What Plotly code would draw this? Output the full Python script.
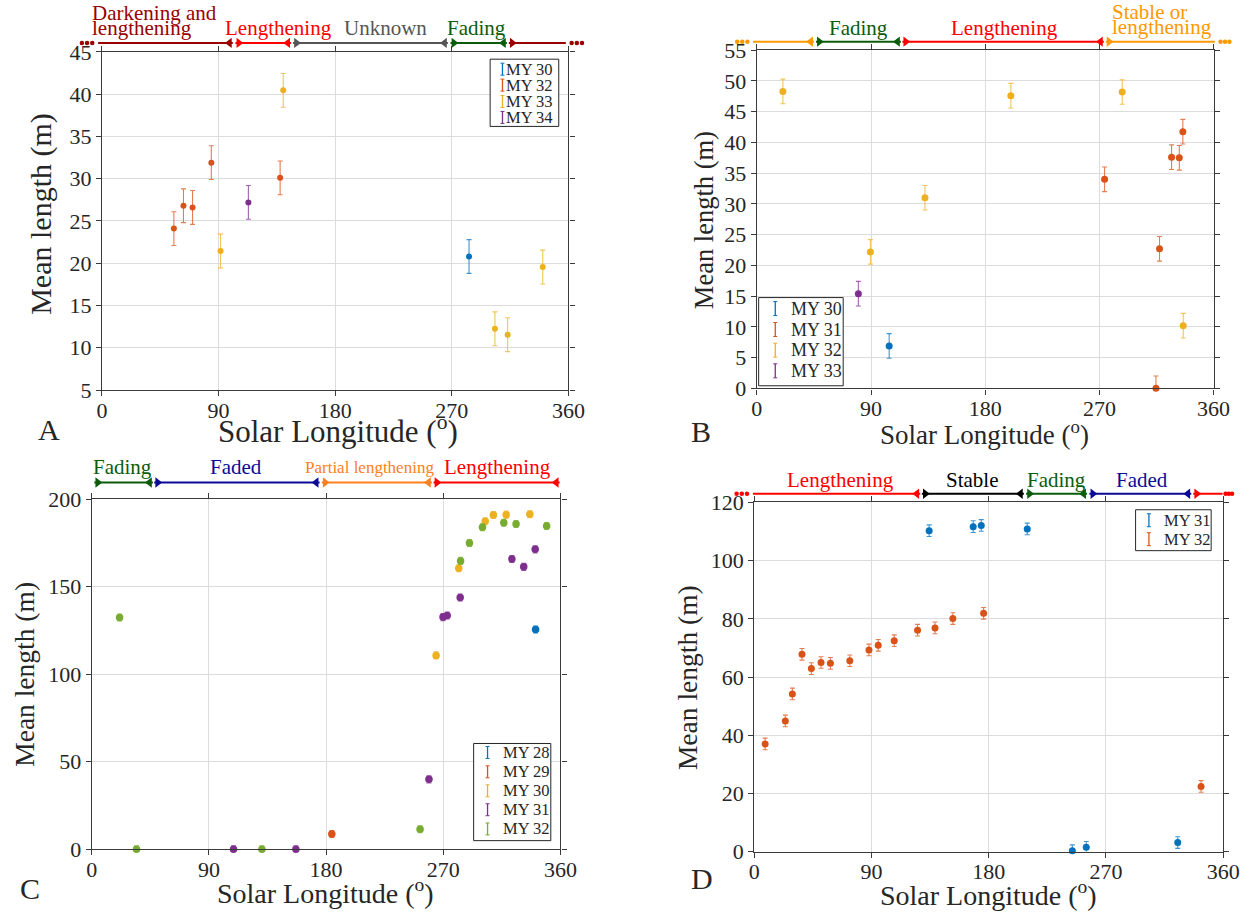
import plotly.graph_objects as go

W, H = 1250, 912

# ---------------- data (Solar longitude in deg, mean length in m) ----------------
A_my30_ls = [283.3]
A_my30_len = [20.8]
A_my32_ls = [55.5, 62.9, 69.9, 84.4, 137.5]
A_my32_len = [24.1, 26.8, 26.6, 31.9, 30.1]
A_my33_ls = [91.5, 139.9, 303.3, 313.1, 340.2]
A_my33_len = [21.45, 40.45, 12.25, 11.55, 19.55]
A_my34_ls = [113.0]
A_my34_len = [27.2]

B_my30_ls = [104.3]
B_my30_len = [6.9]
B_my31_ls = [274.1, 314.6, 317.4, 326.9, 333.0, 335.8]
B_my31_len = [34.0, 0.0, 22.7, 37.6, 37.5, 41.75]
B_my32_ls = [20.5, 89.5, 132.5, 200.2, 288.0, 336.1]
B_my32_len = [48.3, 22.2, 31.0, 47.6, 48.2, 10.2]
B_my33_ls = [80.0]
B_my33_len = [15.4]

C_my28_ls = [340.9]
C_my28_len = [125.5]
C_my29_ls = [184.4]
C_my29_len = [8.7]
C_my30_ls = [264.5, 281.9, 302.2, 308.5, 318.3, 336.5]
C_my30_len = [110.7, 160.5, 187.3, 190.9, 191.1, 191.3]
C_my31_ls = [108.9, 156.8, 259.0, 269.8, 273.0, 283.0, 322.7, 331.8, 340.6]
C_my31_len = [0.0, 0.0, 39.9, 132.6, 133.5, 143.8, 165.8, 161.3, 171.3]
C_my32_ls = [21.4, 34.4, 130.7, 252.2, 283.3, 290.1, 300.1, 316.5, 325.9, 349.4]
C_my32_len = [132.4, 0.0, 0.0, 11.4, 164.7, 174.9, 183.9, 186.5, 185.8, 184.6]

D_my31_ls = [134.3, 168.1, 174.3, 209.6, 244.2, 254.9, 325.1]
D_my31_len = [110.3, 111.7, 112.1, 110.9, 0.3, 1.5, 3.1]
D_my32_ls = [8.4, 23.9, 29.3, 36.7, 43.9, 51.3, 58.5, 73.4, 88.1, 95.2, 107.5,
             125.4, 138.8, 152.5, 176.1, 343.0]
D_my32_len = [37.0, 44.9, 54.2, 67.8, 62.9, 65.0, 64.7, 65.6, 69.3, 70.9, 72.5,
              76.1, 76.9, 80.1, 81.9, 22.4]

ERR = 2.0
x_ticks = [0, 90, 180, 270, 360]

A_legend_names = ["MY 30", "MY 32", "MY 33", "MY 34"]
B_legend_names = ["MY 30", "MY 31", "MY 32", "MY 33"]
C_legend_names = ["MY 28", "MY 29", "MY 30", "MY 31", "MY 32"]
D_legend_names = ["MY 31", "MY 32"]

# ---- phase timelines (degrees of Ls) ----
A_seg_start = [-3, 103, 147.5, 269, 314]
A_seg_end = [101, 146, 267, 312.5, 358]
A_seg_names = ["Darkening and lengthening", "Lengthening", "Unknown", "Fading", "Darkening and lengthening"]
B_seg_start = [-3, 46.6, 114.7, 275]
B_seg_end = [45, 113.5, 273.5, 361]
B_seg_names = ["Stable or lengthening", "Fading", "Lengthening", "Stable or lengthening"]
C_seg_start = [2, 48, 176.7, 262.5]
C_seg_end = [47, 175, 261.3, 359.4]
C_seg_names = ["Fading", "Faded", "Partial lengthening", "Lengthening"]
D_seg_start = [-1, 128.7, 208.7, 257.3, 337]
D_seg_end = [127.5, 207, 255.5, 335.5, 359.5]
D_seg_names = ["Lengthening", "Stable", "Fading", "Faded", "Lengthening"]

# ---------------- styling ----------------
BLUE, RED, YEL, PUR, GRN = '#0072BD', '#D95319', '#EDB120', '#7E2F8E', '#77AC30'
PHASE_COL = {
    "Darkening and lengthening": '#990000',
    "Lengthening": '#FF0000',
    "Unknown": '#555555',
    "Fading": '#0B5B0B',
    "Faded": '#0A0A96',
    "Stable or lengthening": '#FF9900',
    "Partial lengthening": '#FF8020',
    "Stable": '#000000',
}
FONT = "Liberation Serif, DejaVu Serif, serif"
AXC = '#3a3a3a'

# screen-to-layout calibration
SX, OX = 0.987, 1.5
SY, OY = 0.975, 11.0


def rgba(h, a):
    h = h.lstrip('#')
    return 'rgba(%d,%d,%d,%.2f)' % (int(h[0:2], 16), int(h[2:4], 16), int(h[4:6], 16), a)


def ix(p):
    return (p - OX) / SX


def iy(p):
    return (p - OY) / SY


def pxx(p):
    return ix(p) / W


def pxy(p):
    return 1 - iy(p) / H


# panel pixel boxes (target screen px)
panels = {
    1: dict(L=98, R=567, T=51, B=390, line=42, srange=[-22, 378], yr=[5, 45], dt=5,
            tf=22, msize=6, dots=(4.5, 8.5, 12.5)),
    2: dict(L=756.5, R=1215.7, T=49.3, B=388.3, line=40.7, srange=[-20, 381], yr=[0, 55], dt=5,
            tf=22, msize=7, dots=(4.5, 8.0, 11.5)),
    3: dict(L=87.7, R=559, T=499.3, B=850.3, line=482.7, srange=[-5, 365], yr=[0, 200], dt=50,
            tf=22, msize=7.5, dots=(4.5, 8.5, 12.5)),
    4: dict(L=753.8, R=1225.4, T=502.7, B=852.7, line=494, srange=[-18, 377], yr=[0, 120], dt=20,
            tf=22, msize=7, dots=(2.3, 4.8, 7.3)),
}

fig = go.Figure()
layout = dict(width=W, height=H, margin=dict(l=0, r=0, t=0, b=0), autosize=False,
              paper_bgcolor='white', plot_bgcolor='rgba(0,0,0,0)',
              font=dict(family=FONT, color='#262626'), showlegend=False)

for k, p in panels.items():
    xs = '' if k == 1 else str(k)
    layout['xaxis' + xs] = dict(domain=[pxx(p['L']), pxx(p['R'])], range=[0, 360],
                                tickvals=x_ticks, anchor='y' + xs, showgrid=True,
                                gridcolor='#dcdcdc', gridwidth=1, showline=True, linecolor=AXC,
                                linewidth=1.3, mirror='ticks', ticks='outside', ticklen=5,
                                tickcolor=AXC, zeroline=False, ticklabelstandoff=-5,
                                tickfont=dict(family=FONT, size=p['tf'], color='#262626'))
    layout['yaxis' + xs] = dict(domain=[pxy(p['B']), pxy(p['T'])], range=p['yr'], dtick=p['dt'],
                                tick0=0, anchor='x' + xs, showgrid=True, gridcolor='#dcdcdc',
                                gridwidth=1, showline=True, linecolor=AXC, linewidth=1.3,
                                mirror='ticks', ticks='outside', ticklen=5, tickcolor=AXC,
                                zeroline=False,
                                tickfont=dict(family=FONT, size=p['tf'], color='#262626'))
    # timeline strip axes (same degree scale as the panel, wider range)
    s = str(k + 4)
    Li, Ri = ix(p['L']), ix(p['R'])
    ppd = (Ri - Li) / 360.0
    lo, hi = p['srange']
    left = max(0.0, Li + lo * ppd)
    right = min(W - 0.5, Li + hi * ppd)
    lo, hi = (left - Li) / ppd, (right - Li) / ppd
    layout['xaxis' + s] = dict(domain=[left / W, right / W], range=[lo, hi], visible=False,
                               anchor='y' + s, fixedrange=True)
    layout['yaxis' + s] = dict(domain=[pxy(p['line'] + 8), pxy(p['line'] - 8)], range=[-1, 1],
                               visible=False, anchor='x' + s, fixedrange=True)


def add_series(k, xs, ys, color, name):
    sx = '' if k == 1 else str(k)
    p = panels[k]
    fig.add_trace(go.Scatter(
        x=xs, y=ys, mode='markers', xaxis='x' + sx, yaxis='y' + sx, showlegend=False,
        marker=dict(color=color, size=p['msize'], line=dict(width=0)),
        error_y=dict(type='constant', value=ERR, color=rgba(color, 0.75), thickness=1.1, width=2.5),
        cliponaxis=False, name=name))


add_series(1, A_my30_ls, A_my30_len, BLUE, 'MY 30')
add_series(1, A_my32_ls, A_my32_len, RED, 'MY 32')
add_series(1, A_my33_ls, A_my33_len, YEL, 'MY 33')
add_series(1, A_my34_ls, A_my34_len, PUR, 'MY 34')

add_series(2, B_my30_ls, B_my30_len, BLUE, 'MY 30')
add_series(2, B_my31_ls, B_my31_len, RED, 'MY 31')
add_series(2, B_my32_ls, B_my32_len, YEL, 'MY 32')
add_series(2, B_my33_ls, B_my33_len, PUR, 'MY 33')

add_series(3, C_my28_ls, C_my28_len, BLUE, 'MY 28')
add_series(3, C_my29_ls, C_my29_len, RED, 'MY 29')
add_series(3, C_my30_ls, C_my30_len, YEL, 'MY 30')
add_series(3, C_my31_ls, C_my31_len, PUR, 'MY 31')
add_series(3, C_my32_ls, C_my32_len, GRN, 'MY 32')

add_series(4, D_my31_ls, D_my31_len, BLUE, 'MY 31')
add_series(4, D_my32_ls, D_my32_len, RED, 'MY 32')

HEAD = 2.6  # deg offset of arrowhead centre inside a segment


def add_timeline(k, starts, ends, names, open_left, open_right):
    s = str(k + 4)
    n = len(starts)
    offs = panels[k]['dots']
    for i in range(n):
        c = PHASE_COL[names[i]]
        fig.add_trace(go.Scatter(x=[starts[i], ends[i]], y=[0, 0], mode='lines',
                                 line=dict(color=c, width=2), xaxis='x' + s, yaxis='y' + s,
                                 showlegend=False, hoverinfo='skip'))
        hx, hs = [], []
        if not (i == 0 and open_left):
            hx.append(starts[i] + HEAD)
            hs.append('triangle-right')
        if not (i == n - 1 and open_right):
            hx.append(ends[i] - HEAD)
            hs.append('triangle-left')
        if hx:
            fig.add_trace(go.Scatter(x=hx, y=[0] * len(hx), mode='markers', xaxis='x' + s,
                                     yaxis='y' + s, showlegend=False, hoverinfo='skip',
                                     cliponaxis=False,
                                     marker=dict(symbol=hs, size=9, color=c, line=dict(width=0))))
    if open_left:
        c = PHASE_COL[names[0]]
        d0 = starts[0]
        fig.add_trace(go.Scatter(x=[d0 - 4.5, d0 - 8.5, d0 - 12.5], y=[0, 0, 0], mode='markers',
                                 xaxis='x' + s, yaxis='y' + s, showlegend=False, hoverinfo='skip',
                                 cliponaxis=False, marker=dict(size=4.5, color=c)))
    if open_right:
        c = PHASE_COL[names[-1]]
        d1 = ends[-1]
        fig.add_trace(go.Scatter(x=[d1 + o for o in offs], y=[0, 0, 0], mode='markers',
                                 xaxis='x' + s, yaxis='y' + s, showlegend=False, hoverinfo='skip',
                                 cliponaxis=False, marker=dict(size=4.5, color=c)))


add_timeline(1, A_seg_start, A_seg_end, A_seg_names, True, True)
add_timeline(2, B_seg_start, B_seg_end, B_seg_names, True, True)
add_timeline(3, C_seg_start, C_seg_end, C_seg_names, False, False)
add_timeline(4, D_seg_start, D_seg_end, D_seg_names, True, True)

annotations = []
shapes = []


def phase_label(k, text, xdeg, baseline, color, size=21, anchor='center'):
    annotations.append(dict(text=text, x=xdeg, y=pxy(baseline - 0.34 * size),
                            xref='x' + str(k + 4), yref='paper', xanchor=anchor,
                            yanchor='middle', showarrow=False,
                            font=dict(family=FONT, size=size, color=color)))


# panel A phase labels
phase_label(1, "Darkening and", -9, 19.5, PHASE_COL["Darkening and lengthening"], anchor='left')
phase_label(1, "lengthening", -9, 34, PHASE_COL["Darkening and lengthening"], anchor='left')
phase_label(1, "Lengthening", 136, 34, PHASE_COL["Lengthening"])
phase_label(1, "Unknown", 218.7, 34, PHASE_COL["Unknown"])
phase_label(1, "Fading", 289, 34, PHASE_COL["Fading"])
# panel B
phase_label(2, "Fading", 80.3, 34, PHASE_COL["Fading"])
phase_label(2, "Lengthening", 195.3, 34, PHASE_COL["Lengthening"])
phase_label(2, "Stable or", 278.5, 18.5, PHASE_COL["Stable or lengthening"], anchor='left')
phase_label(2, "lengthening", 278.5, 33.5, PHASE_COL["Stable or lengthening"], anchor='left')
# panel C
phase_label(3, "Fading", 23.5, 474, PHASE_COL["Fading"])
phase_label(3, "Faded", 110.7, 474, PHASE_COL["Faded"])
phase_label(3, "Partial lengthening", 213.7, 473.5, PHASE_COL["Partial lengthening"], size=17)
phase_label(3, "Lengthening", 311.8, 474, PHASE_COL["Lengthening"])
# panel D
phase_label(4, "Lengthening", 66, 487, PHASE_COL["Lengthening"])
phase_label(4, "Stable", 167.8, 487, PHASE_COL["Stable"])
phase_label(4, "Fading", 232, 487, PHASE_COL["Fading"])
phase_label(4, "Faded", 298, 487, PHASE_COL["Faded"])


def text_px(text, x, y, size, angle=0, anchor='center'):
    annotations.append(dict(text=text, x=pxx(x), y=pxy(y), xref='paper', yref='paper',
                            xanchor=anchor, yanchor='middle', showarrow=False, textangle=angle,
                            font=dict(family=FONT, size=size, color='#262626')))


XT = "Solar Longitude (<sup>o</sup>)"
YT = "Mean length (m)"
text_px(XT, 335, 430, 31)
text_px(YT, 36, 213, 30, -90)
text_px("A", 45, 430, 30)
text_px(XT, 985, 433, 27)
text_px(YT, 704, 220, 26.5, -90)
text_px("B", 700, 432, 30)
text_px(XT, 323, 893, 28)
text_px(YT, 20, 675, 27.5, -90)
text_px("C", 26, 890, 30)
text_px(XT, 989, 895, 28)
text_px(YT, 687, 678, 27.5, -90)
text_px("D", 701, 880, 30)


# ---- legends (MATLAB style errorbar icons) ----
def draw_legend(box, sym_x, text_x, rows, names, colors, fsize, sym_h):
    x0, x1, y0, y1 = box
    shapes.append(dict(type='rect', xref='paper', yref='paper', x0=pxx(x0), x1=pxx(x1),
                       y0=pxy(y1), y1=pxy(y0), line=dict(color='#262626', width=1),
                       fillcolor='white', layer='above'))
    for r, nm, c in zip(rows, names, colors):
        shapes.append(dict(type='line', xref='paper', yref='paper', x0=pxx(sym_x), x1=pxx(sym_x),
                           y0=pxy(r + sym_h / 2), y1=pxy(r - sym_h / 2),
                           line=dict(color=c, width=1.3), layer='above'))
        for e in (r - sym_h / 2, r + sym_h / 2):
            shapes.append(dict(type='line', xref='paper', yref='paper', x0=pxx(sym_x - 2),
                               x1=pxx(sym_x + 2), y0=pxy(e), y1=pxy(e),
                               line=dict(color=c, width=1), layer='above'))
        text_px(nm, text_x, r, fsize, anchor='left')


draw_legend((488.3, 557.3, 58.3, 125.7), 500.7, 502.5, [68.3, 84.3, 100.7, 116.7],
            A_legend_names, [BLUE, RED, YEL, PUR], 16.5, 12)
draw_legend((758.3, 843.3, 297.3, 385.7), 775, 789, [308.3, 329.3, 350, 370.7],
            B_legend_names, [BLUE, RED, YEL, PUR], 18, 14)
draw_legend((471.7, 549.3, 744.3, 841.7), 485.7, 499, [753.3, 772.7, 791.7, 810.7, 830],
            C_legend_names, [BLUE, RED, YEL, PUR, GRN], 16.5, 12)
draw_legend((1137.3, 1213.3, 510, 551), 1150.7, 1164, [520.5, 539.5],
            D_legend_names, [BLUE, RED], 16.5, 13)

layout['annotations'] = annotations
layout['shapes'] = shapes

fig.update_layout(**layout)
fig.write_html("out.html")
